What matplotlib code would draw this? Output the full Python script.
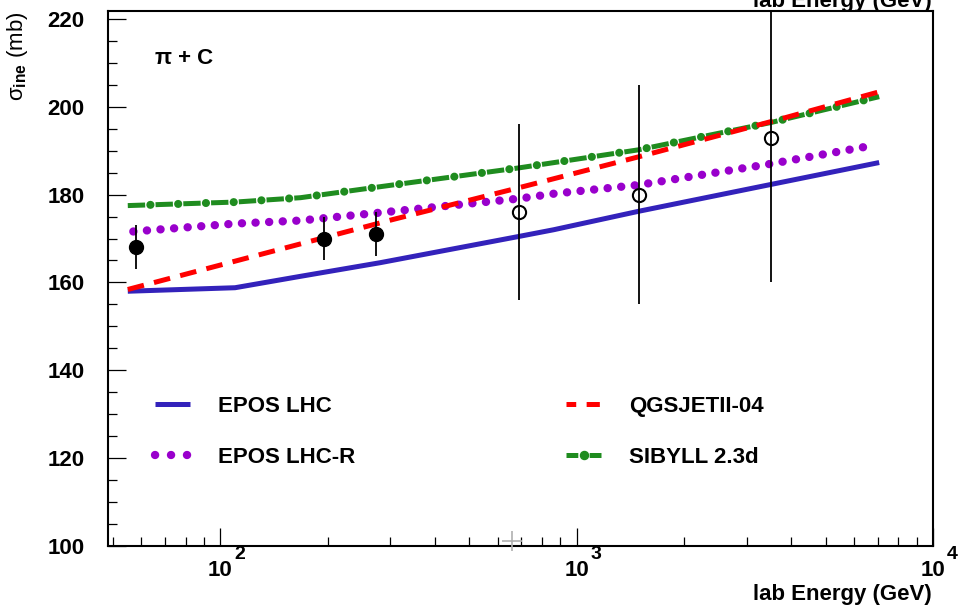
import matplotlib

matplotlib.use("Agg")
import matplotlib.pyplot as plt
from matplotlib.lines import Line2D
from matplotlib.ticker import FixedLocator, LogLocator, MultipleLocator, NullFormatter, FuncFormatter

# model curves (lab energy in GeV, sigma_ine in mb)
epos_e = [55, 110, 168, 281, 691, 862, 1492, 3503, 7063]
epos_s = [158.0, 158.8, 161.4, 164.5, 170.5, 172.0, 176.2, 182.3, 187.3]
eposr_e = [57, 110, 168, 281, 691, 862, 1492, 3503, 6585]
eposr_s = [171.6, 173.4, 174.1, 175.9, 179.1, 180.2, 182.2, 187.0, 191.0]
qgs_e = [55, 304, 691, 1492, 3503, 7063]
qgs_s = [158.4, 174.3, 181.6, 188.6, 196.6, 203.4]
sib_e = [55, 110, 168, 281, 691, 1492, 3503, 7063]
sib_s = [177.5, 178.3, 179.3, 181.8, 186.1, 190.2, 196.4, 202.3]

# measurements
filled_e = [58, 196, 274]
filled_s = [168.0, 170.0, 171.0]
filled_err = [5.0, 5.0, 5.0]
open_e = [691, 1492, 3503]
open_s = [176.0, 180.0, 193.0]
open_err = [20.0, 25.0, 33.0]

C_BLUE = "#3322bb"
C_MAG = "#9900cc"
C_RED = "#ff0000"
C_GREEN = "#1f8c1f"

plt.rcParams.update({
    "font.family": "Liberation Sans",
    "font.weight": "bold",
    "mathtext.fontset": "custom",
    "mathtext.rm": "Liberation Sans:bold",
    "mathtext.bf": "Liberation Sans:bold",
    "mathtext.it": "Liberation Sans:italic",
    "lines.scale_dashes": False,
})

fig = plt.figure(figsize=(9.58, 6.10), dpi=100)
ax = fig.add_axes([108 / 958, 1 - 546 / 610, 825 / 958, 535 / 610])

ax.plot(epos_e, epos_s, color=C_BLUE, lw=3.6, solid_capstyle="butt", zorder=2)
ax.plot(eposr_e, eposr_s, color=C_MAG, lw=6.0, linestyle=(0, (0.1, 9.7)),
        dash_capstyle="round", zorder=2)
ax.plot(sib_e, sib_s, color=C_GREEN, lw=3.6, linestyle=(0, (12.5, 7.5)),
        dash_capstyle="butt", zorder=2)
ax.plot(sib_e, sib_s, color=C_GREEN, lw=5.8, linestyle=(3.75, (0.1, 19.9)),
        dash_capstyle="round", zorder=2)
ax.plot(qgs_e, qgs_s, color=C_RED, lw=3.6, linestyle=(0, (12, 7.5)),
        dash_capstyle="butt", zorder=3)

ax.errorbar(filled_e, filled_s, yerr=filled_err, fmt="o", color="black",
            ms=10, elinewidth=1.3, capsize=0, zorder=5)
ax.errorbar(open_e, open_s, yerr=open_err, fmt="o", color="black", mfc="none",
            mew=1.5, ms=9.5, elinewidth=1.3, capsize=0, zorder=5)

ax.set_xscale("log")
ax.set_xlim(48.4, 1e4)
ax.set_ylim(100, 221.8)

ax.xaxis.set_major_locator(FixedLocator([1e2, 1e3, 1e4]))
ax.xaxis.set_minor_locator(LogLocator(base=10, subs=range(2, 10), numticks=20))
ax.xaxis.set_major_formatter(FuncFormatter(lambda v, p: "10"))
ax.xaxis.set_minor_formatter(NullFormatter())
ax.yaxis.set_major_locator(MultipleLocator(20))
ax.yaxis.set_minor_locator(MultipleLocator(5))

ax.tick_params(which="both", direction="in", top=False, right=False, width=0.9)
ax.tick_params(which="major", length=13)
ax.tick_params(which="minor", length=6.5)
ax.tick_params(axis="x", which="major", labelsize=16, pad=10)
ax.tick_params(axis="y", which="major", labelsize=16, pad=17)
for s in ax.spines.values():
    s.set_linewidth(1.5)

for k in (2, 3, 4):
    ax.annotate(str(k), xy=(10 ** k, 0), xycoords=("data", "axes fraction"),
                xytext=(10, -12), textcoords="offset points",
                ha="left", va="bottom", fontsize=14, annotation_clip=False)

ax.set_ylabel("\u03c3$_{\\mathrm{ine}}$ (mb)", fontsize=16, loc="top")
ax.yaxis.set_label_coords(-0.095, 1.0)

fig.text(932 / 958, 1 - 600 / 610, "lab Energy (GeV)", ha="right",
         va="baseline", fontsize=16)
# second copy of the axis title, clipped by the top edge as in the reference
fig.text(932 / 958, 1 - 7 / 610, "lab Energy (GeV)", ha="right",
         va="baseline", fontsize=16)

ax.text(0.057, 0.912, "\u03c0 + C", transform=ax.transAxes, fontsize=16,
        ha="left", va="center")

# screen cursor left in the reference
ax.plot([0.4897], [0.0093], marker="+", ms=15, mew=1.2, color="#b0b0b0",
        transform=ax.transAxes, clip_on=False, zorder=6)

h_epos = Line2D([], [], color=C_BLUE, lw=3.6, solid_capstyle="butt")
h_eposr = Line2D([], [], color=C_MAG, lw=6.0, linestyle=(0, (0.1, 11.4)),
                 dash_capstyle="round")
h_qgs = Line2D([], [], color=C_RED, lw=3.6, linestyle=(2.5, (9.5, 7.5)))
h_sib = Line2D([], [], color=C_GREEN, lw=3.6, linestyle=(0, (8.5, 8.2)),
               marker="o", ms=5.8, mec=C_GREEN, mfc=C_GREEN)

ax.legend([h_epos, h_eposr, h_qgs, h_sib],
          ["EPOS LHC", "EPOS LHC-R", "QGSJETII-04", "SIBYLL 2.3d"],
          numpoints=1, ncols=2, frameon=False, fontsize=16, loc="upper left",
          bbox_to_anchor=(0.057, 0.28), borderpad=0, borderaxespad=0,
          handlelength=1.575, handletextpad=1.26, columnspacing=9.5,
          labelspacing=1.33)

fig.savefig("out.png", dpi=100)
